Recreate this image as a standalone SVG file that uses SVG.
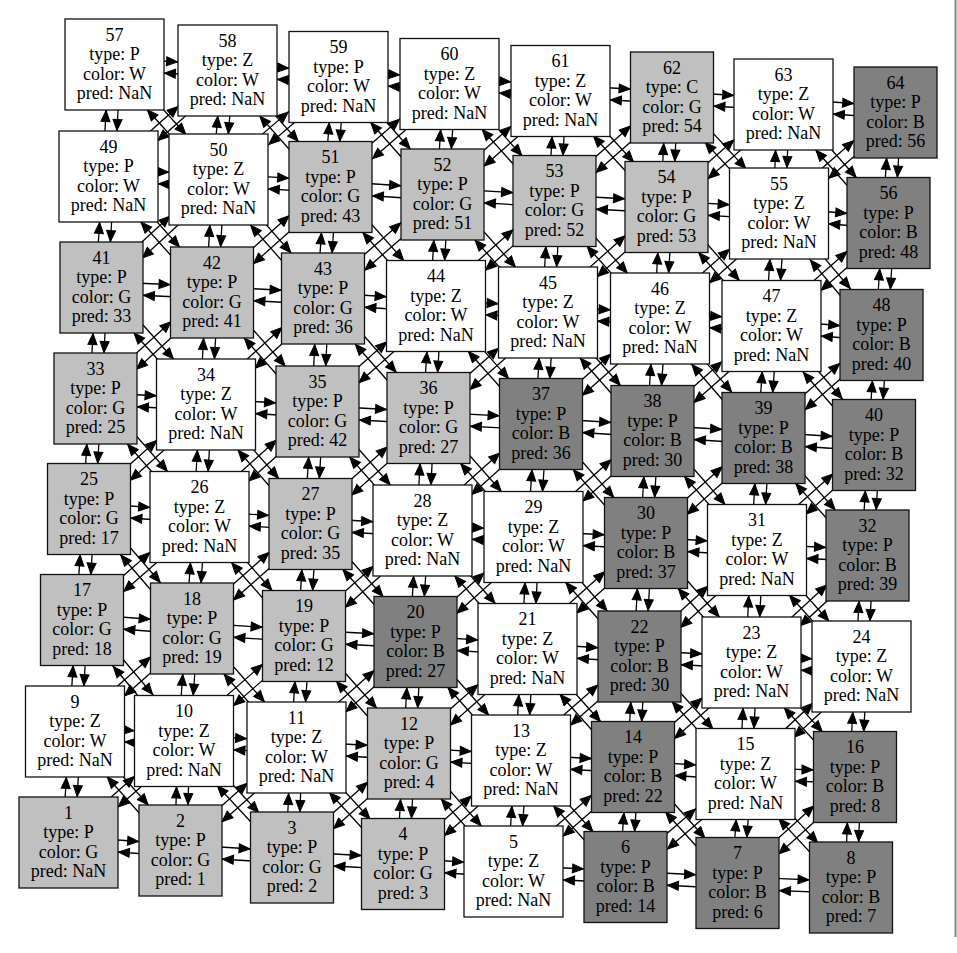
<svg xmlns="http://www.w3.org/2000/svg" width="957" height="953" viewBox="0 0 957 953">
<style>
.G rect{fill:#c0c0c0}.B rect{fill:#808080}.W rect{fill:#fff}
.nodes rect{stroke:#111;stroke-width:1.3}
.nodes text{font-family:"Liberation Serif","Times New Roman",serif;font-size:18px;text-anchor:middle;fill:#000}
#edges path{fill:none;stroke:#000;stroke-width:1.3}
.h path{marker-end:url(#m42)}.h path.w{marker-end:url(#m50)}
.v path{marker-end:url(#m46)}
.a path{marker-end:url(#m50)}.a path.w{marker-end:url(#m61)}
.b path{marker-end:url(#m56)}
marker{overflow:visible}
marker path{fill:#000;stroke:#000;stroke-width:1}
</style>
<defs>
<marker id="m42" markerUnits="userSpaceOnUse" orient="auto" markerWidth="1" markerHeight="1"><path d="M-42 0L-53 -4.5L-53 4.5Z"/></marker>
<marker id="m50" markerUnits="userSpaceOnUse" orient="auto" markerWidth="1" markerHeight="1"><path d="M-50 0L-61 -4.5L-61 4.5Z"/></marker>
<marker id="m46" markerUnits="userSpaceOnUse" orient="auto" markerWidth="1" markerHeight="1"><path d="M-46 0L-57 -4.5L-57 4.5Z"/></marker>
<marker id="m61" markerUnits="userSpaceOnUse" orient="auto" markerWidth="1" markerHeight="1"><path d="M-60.7 0L-71.7 -4.5L-71.7 4.5Z"/></marker>
<marker id="m56" markerUnits="userSpaceOnUse" orient="auto" markerWidth="1" markerHeight="1"><path d="M-55.6 0L-66.6 -4.5L-66.6 4.5Z"/></marker>
</defs>
<rect width="957" height="953" fill="#fff"/>
<line x1="955.5" y1="0" x2="955.5" y2="937" stroke="#888" stroke-width="2"/>
<g id="edges">
<g class="h" transform="translate(0,-6)">
<path d="M68.5 842.5L180.5 850.5"/><path d="M180.5 850.5L292 857.5"/><path d="M292 857.5L403 864"/><path class="w" d="M403 864L513.5 871.5"/><path d="M513.5 871.5L625.5 877"/><path d="M625.5 877L737.5 883"/><path d="M737.5 883L851 887.5"/>
<path class="w" d="M75 731.5L184 741"/><path class="w" d="M184 741L296.5 747.5"/><path d="M296.5 747.5L409 753.5"/><path class="w" d="M409 753.5L521 760.5"/><path d="M521 760.5L633 767"/><path class="w" d="M633 767L745.5 774"/><path d="M745.5 774L855 777"/>
<path d="M82 620L192 628.5"/><path d="M192 628.5L304 636"/><path d="M304 636L415.5 642"/><path class="w" d="M415.5 642L527.5 649"/><path d="M527.5 649L639.5 656.5"/><path class="w" d="M639.5 656.5L751.5 662.5"/><path class="w" d="M751.5 662.5L861.5 666.5"/>
<path class="w" d="M89 509L199.5 517"/><path d="M199.5 517L310.5 524"/><path class="w" d="M310.5 524L422.5 530.5"/><path class="w" d="M422.5 530.5L533.5 537"/><path d="M533.5 537L646 543"/><path class="w" d="M646 543L757 550"/><path d="M757 550L867.5 555.5"/>
<path class="w" d="M95.5 398.5L206 404.5"/><path d="M206 404.5L317.5 411.5"/><path d="M317.5 411.5L428.5 418"/><path d="M428.5 418L541 424"/><path d="M541 424L652.5 431"/><path d="M652.5 431L763.5 438"/><path d="M763.5 438L874 445"/>
<path d="M101.5 287.5L212 292.5"/><path d="M212 292.5L323 298.5"/><path class="w" d="M323 298.5L436 306"/><path class="w" d="M436 306L548 312.5"/><path class="w" d="M548 312.5L660 318.5"/><path class="w" d="M660 318.5L771.5 326"/><path d="M771.5 326L881.5 335"/>
<path class="w" d="M108.5 176.5L218.5 179.5"/><path d="M218.5 179.5L330.5 187"/><path d="M330.5 187L442.5 194.5"/><path d="M442.5 194.5L554.5 201"/><path d="M554.5 201L666.5 207"/><path class="w" d="M666.5 207L779 213.5"/><path d="M779 213.5L888.5 223"/>
<path class="w" d="M114.5 64.5L227.5 70.5"/><path class="w" d="M227.5 70.5L338.5 77"/><path class="w" d="M338.5 77L449.5 84"/><path class="w" d="M449.5 84L560.5 91"/><path d="M560.5 91L672 97.5"/><path class="w" d="M672 97.5L783.5 104.5"/><path d="M783.5 104.5L895.5 112.5"/>
</g>
<g class="h" transform="translate(0,6)">
<path class="w" d="M180.5 850.5L68.5 842.5"/><path d="M292 857.5L180.5 850.5"/><path d="M403 864L292 857.5"/><path d="M513.5 871.5L403 864"/><path class="w" d="M625.5 877L513.5 871.5"/><path d="M737.5 883L625.5 877"/><path d="M851 887.5L737.5 883"/>
<path class="w" d="M184 741L75 731.5"/><path class="w" d="M296.5 747.5L184 741"/><path class="w" d="M409 753.5L296.5 747.5"/><path d="M521 760.5L409 753.5"/><path class="w" d="M633 767L521 760.5"/><path d="M745.5 774L633 767"/><path class="w" d="M855 777L745.5 774"/>
<path d="M192 628.5L82 620"/><path d="M304 636L192 628.5"/><path d="M415.5 642L304 636"/><path d="M527.5 649L415.5 642"/><path class="w" d="M639.5 656.5L527.5 649"/><path d="M751.5 662.5L639.5 656.5"/><path class="w" d="M861.5 666.5L751.5 662.5"/>
<path d="M199.5 517L89 509"/><path class="w" d="M310.5 524L199.5 517"/><path d="M422.5 530.5L310.5 524"/><path class="w" d="M533.5 537L422.5 530.5"/><path class="w" d="M646 543L533.5 537"/><path d="M757 550L646 543"/><path class="w" d="M867.5 555.5L757 550"/>
<path d="M206 404.5L95.5 398.5"/><path class="w" d="M317.5 411.5L206 404.5"/><path d="M428.5 418L317.5 411.5"/><path d="M541 424L428.5 418"/><path d="M652.5 431L541 424"/><path d="M763.5 438L652.5 431"/><path d="M874 445L763.5 438"/>
<path d="M212 292.5L101.5 287.5"/><path d="M323 298.5L212 292.5"/><path d="M436 306L323 298.5"/><path class="w" d="M548 312.5L436 306"/><path class="w" d="M660 318.5L548 312.5"/><path class="w" d="M771.5 326L660 318.5"/><path class="w" d="M881.5 335L771.5 326"/>
<path class="w" d="M218.5 179.5L108.5 176.5"/><path class="w" d="M330.5 187L218.5 179.5"/><path d="M442.5 194.5L330.5 187"/><path d="M554.5 201L442.5 194.5"/><path d="M666.5 207L554.5 201"/><path d="M779 213.5L666.5 207"/><path class="w" d="M888.5 223L779 213.5"/>
<path class="w" d="M227.5 70.5L114.5 64.5"/><path class="w" d="M338.5 77L227.5 70.5"/><path class="w" d="M449.5 84L338.5 77"/><path class="w" d="M560.5 91L449.5 84"/><path class="w" d="M672 97.5L560.5 91"/><path d="M783.5 104.5L672 97.5"/><path class="w" d="M895.5 112.5L783.5 104.5"/>
</g>
<g class="v" transform="translate(-6,0)">
<path d="M68.5 842.5L75 731.5"/><path d="M180.5 850.5L184 741"/><path d="M292 857.5L296.5 747.5"/><path d="M403 864L409 753.5"/><path d="M513.5 871.5L521 760.5"/><path d="M625.5 877L633 767"/><path d="M737.5 883L745.5 774"/><path d="M851 887.5L855 777"/>
<path d="M75 731.5L82 620"/><path d="M184 741L192 628.5"/><path d="M296.5 747.5L304 636"/><path d="M409 753.5L415.5 642"/><path d="M521 760.5L527.5 649"/><path d="M633 767L639.5 656.5"/><path d="M745.5 774L751.5 662.5"/><path d="M855 777L861.5 666.5"/>
<path d="M82 620L89 509"/><path d="M192 628.5L199.5 517"/><path d="M304 636L310.5 524"/><path d="M415.5 642L422.5 530.5"/><path d="M527.5 649L533.5 537"/><path d="M639.5 656.5L646 543"/><path d="M751.5 662.5L757 550"/><path d="M861.5 666.5L867.5 555.5"/>
<path d="M89 509L95.5 398.5"/><path d="M199.5 517L206 404.5"/><path d="M310.5 524L317.5 411.5"/><path d="M422.5 530.5L428.5 418"/><path d="M533.5 537L541 424"/><path d="M646 543L652.5 431"/><path d="M757 550L763.5 438"/><path d="M867.5 555.5L874 445"/>
<path d="M95.5 398.5L101.5 287.5"/><path d="M206 404.5L212 292.5"/><path d="M317.5 411.5L323 298.5"/><path d="M428.5 418L436 306"/><path d="M541 424L548 312.5"/><path d="M652.5 431L660 318.5"/><path d="M763.5 438L771.5 326"/><path d="M874 445L881.5 335"/>
<path d="M101.5 287.5L108.5 176.5"/><path d="M212 292.5L218.5 179.5"/><path d="M323 298.5L330.5 187"/><path d="M436 306L442.5 194.5"/><path d="M548 312.5L554.5 201"/><path d="M660 318.5L666.5 207"/><path d="M771.5 326L779 213.5"/><path d="M881.5 335L888.5 223"/>
<path d="M108.5 176.5L114.5 64.5"/><path d="M218.5 179.5L227.5 70.5"/><path d="M330.5 187L338.5 77"/><path d="M442.5 194.5L449.5 84"/><path d="M554.5 201L560.5 91"/><path d="M666.5 207L672 97.5"/><path d="M779 213.5L783.5 104.5"/><path d="M888.5 223L895.5 112.5"/>
</g>
<g class="v" transform="translate(6,0)">
<path d="M75 731.5L68.5 842.5"/><path d="M184 741L180.5 850.5"/><path d="M296.5 747.5L292 857.5"/><path d="M409 753.5L403 864"/><path d="M521 760.5L513.5 871.5"/><path d="M633 767L625.5 877"/><path d="M745.5 774L737.5 883"/><path d="M855 777L851 887.5"/>
<path d="M82 620L75 731.5"/><path d="M192 628.5L184 741"/><path d="M304 636L296.5 747.5"/><path d="M415.5 642L409 753.5"/><path d="M527.5 649L521 760.5"/><path d="M639.5 656.5L633 767"/><path d="M751.5 662.5L745.5 774"/><path d="M861.5 666.5L855 777"/>
<path d="M89 509L82 620"/><path d="M199.5 517L192 628.5"/><path d="M310.5 524L304 636"/><path d="M422.5 530.5L415.5 642"/><path d="M533.5 537L527.5 649"/><path d="M646 543L639.5 656.5"/><path d="M757 550L751.5 662.5"/><path d="M867.5 555.5L861.5 666.5"/>
<path d="M95.5 398.5L89 509"/><path d="M206 404.5L199.5 517"/><path d="M317.5 411.5L310.5 524"/><path d="M428.5 418L422.5 530.5"/><path d="M541 424L533.5 537"/><path d="M652.5 431L646 543"/><path d="M763.5 438L757 550"/><path d="M874 445L867.5 555.5"/>
<path d="M101.5 287.5L95.5 398.5"/><path d="M212 292.5L206 404.5"/><path d="M323 298.5L317.5 411.5"/><path d="M436 306L428.5 418"/><path d="M548 312.5L541 424"/><path d="M660 318.5L652.5 431"/><path d="M771.5 326L763.5 438"/><path d="M881.5 335L874 445"/>
<path d="M108.5 176.5L101.5 287.5"/><path d="M218.5 179.5L212 292.5"/><path d="M330.5 187L323 298.5"/><path d="M442.5 194.5L436 306"/><path d="M554.5 201L548 312.5"/><path d="M666.5 207L660 318.5"/><path d="M779 213.5L771.5 326"/><path d="M888.5 223L881.5 335"/>
<path d="M114.5 64.5L108.5 176.5"/><path d="M227.5 70.5L218.5 179.5"/><path d="M338.5 77L330.5 187"/><path d="M449.5 84L442.5 194.5"/><path d="M560.5 91L554.5 201"/><path d="M672 97.5L666.5 207"/><path d="M783.5 104.5L779 213.5"/><path d="M895.5 112.5L888.5 223"/>
</g>
<g class="a" transform="translate(-4,-4.5)">
<path class="w" d="M68.5 842.5L184 741"/><path class="w" d="M180.5 850.5L296.5 747.5"/><path d="M292 857.5L409 753.5"/><path class="w" d="M403 864L521 760.5"/><path d="M513.5 871.5L633 767"/><path class="w" d="M625.5 877L745.5 774"/><path d="M737.5 883L855 777"/>
<path d="M75 731.5L192 628.5"/><path d="M184 741L304 636"/><path d="M296.5 747.5L415.5 642"/><path class="w" d="M409 753.5L527.5 649"/><path d="M521 760.5L639.5 656.5"/><path class="w" d="M633 767L751.5 662.5"/><path class="w" d="M745.5 774L861.5 666.5"/>
<path class="w" d="M82 620L199.5 517"/><path d="M192 628.5L310.5 524"/><path class="w" d="M304 636L422.5 530.5"/><path class="w" d="M415.5 642L533.5 537"/><path d="M527.5 649L646 543"/><path class="w" d="M639.5 656.5L757 550"/><path d="M751.5 662.5L867.5 555.5"/>
<path class="w" d="M89 509L206 404.5"/><path d="M199.5 517L317.5 411.5"/><path d="M310.5 524L428.5 418"/><path d="M422.5 530.5L541 424"/><path d="M533.5 537L652.5 431"/><path d="M646 543L763.5 438"/><path d="M757 550L874 445"/>
<path d="M95.5 398.5L212 292.5"/><path d="M206 404.5L323 298.5"/><path class="w" d="M317.5 411.5L436 306"/><path class="w" d="M428.5 418L548 312.5"/><path class="w" d="M541 424L660 318.5"/><path class="w" d="M652.5 431L771.5 326"/><path d="M763.5 438L881.5 335"/>
<path class="w" d="M101.5 287.5L218.5 179.5"/><path d="M212 292.5L330.5 187"/><path d="M323 298.5L442.5 194.5"/><path d="M436 306L554.5 201"/><path d="M548 312.5L666.5 207"/><path class="w" d="M660 318.5L779 213.5"/><path d="M771.5 326L888.5 223"/>
<path class="w" d="M108.5 176.5L227.5 70.5"/><path class="w" d="M218.5 179.5L338.5 77"/><path class="w" d="M330.5 187L449.5 84"/><path class="w" d="M442.5 194.5L560.5 91"/><path d="M554.5 201L672 97.5"/><path class="w" d="M666.5 207L783.5 104.5"/><path d="M779 213.5L895.5 112.5"/>
</g>
<g class="a" transform="translate(4,4.5)">
<path class="w" d="M184 741L68.5 842.5"/><path d="M296.5 747.5L180.5 850.5"/><path d="M409 753.5L292 857.5"/><path d="M521 760.5L403 864"/><path class="w" d="M633 767L513.5 871.5"/><path d="M745.5 774L625.5 877"/><path d="M855 777L737.5 883"/>
<path class="w" d="M192 628.5L75 731.5"/><path class="w" d="M304 636L184 741"/><path class="w" d="M415.5 642L296.5 747.5"/><path d="M527.5 649L409 753.5"/><path class="w" d="M639.5 656.5L521 760.5"/><path d="M751.5 662.5L633 767"/><path class="w" d="M861.5 666.5L745.5 774"/>
<path d="M199.5 517L82 620"/><path d="M310.5 524L192 628.5"/><path d="M422.5 530.5L304 636"/><path d="M533.5 537L415.5 642"/><path class="w" d="M646 543L527.5 649"/><path d="M757 550L639.5 656.5"/><path class="w" d="M867.5 555.5L751.5 662.5"/>
<path d="M206 404.5L89 509"/><path class="w" d="M317.5 411.5L199.5 517"/><path d="M428.5 418L310.5 524"/><path class="w" d="M541 424L422.5 530.5"/><path class="w" d="M652.5 431L533.5 537"/><path d="M763.5 438L646 543"/><path class="w" d="M874 445L757 550"/>
<path d="M212 292.5L95.5 398.5"/><path class="w" d="M323 298.5L206 404.5"/><path d="M436 306L317.5 411.5"/><path d="M548 312.5L428.5 418"/><path d="M660 318.5L541 424"/><path d="M771.5 326L652.5 431"/><path d="M881.5 335L763.5 438"/>
<path d="M218.5 179.5L101.5 287.5"/><path d="M330.5 187L212 292.5"/><path d="M442.5 194.5L323 298.5"/><path class="w" d="M554.5 201L436 306"/><path class="w" d="M666.5 207L548 312.5"/><path class="w" d="M779 213.5L660 318.5"/><path class="w" d="M888.5 223L771.5 326"/>
<path class="w" d="M227.5 70.5L108.5 176.5"/><path class="w" d="M338.5 77L218.5 179.5"/><path d="M449.5 84L330.5 187"/><path d="M560.5 91L442.5 194.5"/><path d="M672 97.5L554.5 201"/><path d="M783.5 104.5L666.5 207"/><path class="w" d="M895.5 112.5L779 213.5"/>
</g>
<g class="b" transform="translate(4.5,-4)">
<path d="M75 731.5L180.5 850.5"/><path d="M184 741L292 857.5"/><path d="M296.5 747.5L403 864"/><path d="M409 753.5L513.5 871.5"/><path d="M521 760.5L625.5 877"/><path d="M633 767L737.5 883"/><path d="M745.5 774L851 887.5"/>
<path d="M82 620L184 741"/><path d="M192 628.5L296.5 747.5"/><path d="M304 636L409 753.5"/><path d="M415.5 642L521 760.5"/><path d="M527.5 649L633 767"/><path d="M639.5 656.5L745.5 774"/><path d="M751.5 662.5L855 777"/>
<path d="M89 509L192 628.5"/><path d="M199.5 517L304 636"/><path d="M310.5 524L415.5 642"/><path d="M422.5 530.5L527.5 649"/><path d="M533.5 537L639.5 656.5"/><path d="M646 543L751.5 662.5"/><path d="M757 550L861.5 666.5"/>
<path d="M95.5 398.5L199.5 517"/><path d="M206 404.5L310.5 524"/><path d="M317.5 411.5L422.5 530.5"/><path d="M428.5 418L533.5 537"/><path d="M541 424L646 543"/><path d="M652.5 431L757 550"/><path d="M763.5 438L867.5 555.5"/>
<path d="M101.5 287.5L206 404.5"/><path d="M212 292.5L317.5 411.5"/><path d="M323 298.5L428.5 418"/><path d="M436 306L541 424"/><path d="M548 312.5L652.5 431"/><path d="M660 318.5L763.5 438"/><path d="M771.5 326L874 445"/>
<path d="M108.5 176.5L212 292.5"/><path d="M218.5 179.5L323 298.5"/><path d="M330.5 187L436 306"/><path d="M442.5 194.5L548 312.5"/><path d="M554.5 201L660 318.5"/><path d="M666.5 207L771.5 326"/><path d="M779 213.5L881.5 335"/>
<path d="M114.5 64.5L218.5 179.5"/><path d="M227.5 70.5L330.5 187"/><path d="M338.5 77L442.5 194.5"/><path d="M449.5 84L554.5 201"/><path d="M560.5 91L666.5 207"/><path d="M672 97.5L779 213.5"/><path d="M783.5 104.5L888.5 223"/>
</g>
<g class="b" transform="translate(-4.5,4)">
<path d="M180.5 850.5L75 731.5"/><path d="M292 857.5L184 741"/><path d="M403 864L296.5 747.5"/><path d="M513.5 871.5L409 753.5"/><path d="M625.5 877L521 760.5"/><path d="M737.5 883L633 767"/><path d="M851 887.5L745.5 774"/>
<path d="M184 741L82 620"/><path d="M296.5 747.5L192 628.5"/><path d="M409 753.5L304 636"/><path d="M521 760.5L415.5 642"/><path d="M633 767L527.5 649"/><path d="M745.5 774L639.5 656.5"/><path d="M855 777L751.5 662.5"/>
<path d="M192 628.5L89 509"/><path d="M304 636L199.5 517"/><path d="M415.5 642L310.5 524"/><path d="M527.5 649L422.5 530.5"/><path d="M639.5 656.5L533.5 537"/><path d="M751.5 662.5L646 543"/><path d="M861.5 666.5L757 550"/>
<path d="M199.5 517L95.5 398.5"/><path d="M310.5 524L206 404.5"/><path d="M422.5 530.5L317.5 411.5"/><path d="M533.5 537L428.5 418"/><path d="M646 543L541 424"/><path d="M757 550L652.5 431"/><path d="M867.5 555.5L763.5 438"/>
<path d="M206 404.5L101.5 287.5"/><path d="M317.5 411.5L212 292.5"/><path d="M428.5 418L323 298.5"/><path d="M541 424L436 306"/><path d="M652.5 431L548 312.5"/><path d="M763.5 438L660 318.5"/><path d="M874 445L771.5 326"/>
<path d="M212 292.5L108.5 176.5"/><path d="M323 298.5L218.5 179.5"/><path d="M436 306L330.5 187"/><path d="M548 312.5L442.5 194.5"/><path d="M660 318.5L554.5 201"/><path d="M771.5 326L666.5 207"/><path d="M881.5 335L779 213.5"/>
<path d="M218.5 179.5L114.5 64.5"/><path d="M330.5 187L227.5 70.5"/><path d="M442.5 194.5L338.5 77"/><path d="M554.5 201L449.5 84"/><path d="M666.5 207L560.5 91"/><path d="M779 213.5L672 97.5"/><path d="M888.5 223L783.5 104.5"/>
</g>
</g>
<g class="nodes">
<g id="n1" class="G" transform="translate(68.5,842.5)"><rect x="-49.5" y="-45.5" width="99" height="91"/><text y="-24">1<tspan x="0" dy="19.5">type: P</tspan><tspan x="0" dy="19.5">color: G</tspan><tspan x="0" dy="19.5">pred: NaN</tspan></text></g>
<g id="n2" class="G" transform="translate(180.5,850.5)"><rect x="-41.5" y="-45.5" width="83" height="91"/><text y="-24">2<tspan x="0" dy="19.5">type: P</tspan><tspan x="0" dy="19.5">color: G</tspan><tspan x="0" dy="19.5">pred: 1</tspan></text></g>
<g id="n3" class="G" transform="translate(292,857.5)"><rect x="-41.5" y="-45.5" width="83" height="91"/><text y="-24">3<tspan x="0" dy="19.5">type: P</tspan><tspan x="0" dy="19.5">color: G</tspan><tspan x="0" dy="19.5">pred: 2</tspan></text></g>
<g id="n4" class="G" transform="translate(403,864)"><rect x="-41.5" y="-45.5" width="83" height="91"/><text y="-24">4<tspan x="0" dy="19.5">type: P</tspan><tspan x="0" dy="19.5">color: G</tspan><tspan x="0" dy="19.5">pred: 3</tspan></text></g>
<g id="n5" class="W" transform="translate(513.5,871.5)"><rect x="-49.5" y="-45.5" width="99" height="91"/><text y="-24">5<tspan x="0" dy="19.5">type: Z</tspan><tspan x="0" dy="19.5">color: W</tspan><tspan x="0" dy="19.5">pred: NaN</tspan></text></g>
<g id="n6" class="B" transform="translate(625.5,877)"><rect x="-41.5" y="-45.5" width="83" height="91"/><text y="-24">6<tspan x="0" dy="19.5">type: P</tspan><tspan x="0" dy="19.5">color: B</tspan><tspan x="0" dy="19.5">pred: 14</tspan></text></g>
<g id="n7" class="B" transform="translate(737.5,883)"><rect x="-41.5" y="-45.5" width="83" height="91"/><text y="-24">7<tspan x="0" dy="19.5">type: P</tspan><tspan x="0" dy="19.5">color: B</tspan><tspan x="0" dy="19.5">pred: 6</tspan></text></g>
<g id="n8" class="B" transform="translate(851,887.5)"><rect x="-41.5" y="-45.5" width="83" height="91"/><text y="-24">8<tspan x="0" dy="19.5">type: P</tspan><tspan x="0" dy="19.5">color: B</tspan><tspan x="0" dy="19.5">pred: 7</tspan></text></g>
<g id="n9" class="W" transform="translate(75,731.5)"><rect x="-49.5" y="-45.5" width="99" height="91"/><text y="-24">9<tspan x="0" dy="19.5">type: Z</tspan><tspan x="0" dy="19.5">color: W</tspan><tspan x="0" dy="19.5">pred: NaN</tspan></text></g>
<g id="n10" class="W" transform="translate(184,741)"><rect x="-49.5" y="-45.5" width="99" height="91"/><text y="-24">10<tspan x="0" dy="19.5">type: Z</tspan><tspan x="0" dy="19.5">color: W</tspan><tspan x="0" dy="19.5">pred: NaN</tspan></text></g>
<g id="n11" class="W" transform="translate(296.5,747.5)"><rect x="-49.5" y="-45.5" width="99" height="91"/><text y="-24">11<tspan x="0" dy="19.5">type: Z</tspan><tspan x="0" dy="19.5">color: W</tspan><tspan x="0" dy="19.5">pred: NaN</tspan></text></g>
<g id="n12" class="G" transform="translate(409,753.5)"><rect x="-41.5" y="-45.5" width="83" height="91"/><text y="-24">12<tspan x="0" dy="19.5">type: P</tspan><tspan x="0" dy="19.5">color: G</tspan><tspan x="0" dy="19.5">pred: 4</tspan></text></g>
<g id="n13" class="W" transform="translate(521,760.5)"><rect x="-49.5" y="-45.5" width="99" height="91"/><text y="-24">13<tspan x="0" dy="19.5">type: Z</tspan><tspan x="0" dy="19.5">color: W</tspan><tspan x="0" dy="19.5">pred: NaN</tspan></text></g>
<g id="n14" class="B" transform="translate(633,767)"><rect x="-41.5" y="-45.5" width="83" height="91"/><text y="-24">14<tspan x="0" dy="19.5">type: P</tspan><tspan x="0" dy="19.5">color: B</tspan><tspan x="0" dy="19.5">pred: 22</tspan></text></g>
<g id="n15" class="W" transform="translate(745.5,774)"><rect x="-49.5" y="-45.5" width="99" height="91"/><text y="-24">15<tspan x="0" dy="19.5">type: Z</tspan><tspan x="0" dy="19.5">color: W</tspan><tspan x="0" dy="19.5">pred: NaN</tspan></text></g>
<g id="n16" class="B" transform="translate(855,777)"><rect x="-41.5" y="-45.5" width="83" height="91"/><text y="-24">16<tspan x="0" dy="19.5">type: P</tspan><tspan x="0" dy="19.5">color: B</tspan><tspan x="0" dy="19.5">pred: 8</tspan></text></g>
<g id="n17" class="G" transform="translate(82,620)"><rect x="-41.5" y="-45.5" width="83" height="91"/><text y="-24">17<tspan x="0" dy="19.5">type: P</tspan><tspan x="0" dy="19.5">color: G</tspan><tspan x="0" dy="19.5">pred: 18</tspan></text></g>
<g id="n18" class="G" transform="translate(192,628.5)"><rect x="-41.5" y="-45.5" width="83" height="91"/><text y="-24">18<tspan x="0" dy="19.5">type: P</tspan><tspan x="0" dy="19.5">color: G</tspan><tspan x="0" dy="19.5">pred: 19</tspan></text></g>
<g id="n19" class="G" transform="translate(304,636)"><rect x="-41.5" y="-45.5" width="83" height="91"/><text y="-24">19<tspan x="0" dy="19.5">type: P</tspan><tspan x="0" dy="19.5">color: G</tspan><tspan x="0" dy="19.5">pred: 12</tspan></text></g>
<g id="n20" class="B" transform="translate(415.5,642)"><rect x="-41.5" y="-45.5" width="83" height="91"/><text y="-24">20<tspan x="0" dy="19.5">type: P</tspan><tspan x="0" dy="19.5">color: B</tspan><tspan x="0" dy="19.5">pred: 27</tspan></text></g>
<g id="n21" class="W" transform="translate(527.5,649)"><rect x="-49.5" y="-45.5" width="99" height="91"/><text y="-24">21<tspan x="0" dy="19.5">type: Z</tspan><tspan x="0" dy="19.5">color: W</tspan><tspan x="0" dy="19.5">pred: NaN</tspan></text></g>
<g id="n22" class="B" transform="translate(639.5,656.5)"><rect x="-41.5" y="-45.5" width="83" height="91"/><text y="-24">22<tspan x="0" dy="19.5">type: P</tspan><tspan x="0" dy="19.5">color: B</tspan><tspan x="0" dy="19.5">pred: 30</tspan></text></g>
<g id="n23" class="W" transform="translate(751.5,662.5)"><rect x="-49.5" y="-45.5" width="99" height="91"/><text y="-24">23<tspan x="0" dy="19.5">type: Z</tspan><tspan x="0" dy="19.5">color: W</tspan><tspan x="0" dy="19.5">pred: NaN</tspan></text></g>
<g id="n24" class="W" transform="translate(861.5,666.5)"><rect x="-49.5" y="-45.5" width="99" height="91"/><text y="-24">24<tspan x="0" dy="19.5">type: Z</tspan><tspan x="0" dy="19.5">color: W</tspan><tspan x="0" dy="19.5">pred: NaN</tspan></text></g>
<g id="n25" class="G" transform="translate(89,509)"><rect x="-41.5" y="-45.5" width="83" height="91"/><text y="-24">25<tspan x="0" dy="19.5">type: P</tspan><tspan x="0" dy="19.5">color: G</tspan><tspan x="0" dy="19.5">pred: 17</tspan></text></g>
<g id="n26" class="W" transform="translate(199.5,517)"><rect x="-49.5" y="-45.5" width="99" height="91"/><text y="-24">26<tspan x="0" dy="19.5">type: Z</tspan><tspan x="0" dy="19.5">color: W</tspan><tspan x="0" dy="19.5">pred: NaN</tspan></text></g>
<g id="n27" class="G" transform="translate(310.5,524)"><rect x="-41.5" y="-45.5" width="83" height="91"/><text y="-24">27<tspan x="0" dy="19.5">type: P</tspan><tspan x="0" dy="19.5">color: G</tspan><tspan x="0" dy="19.5">pred: 35</tspan></text></g>
<g id="n28" class="W" transform="translate(422.5,530.5)"><rect x="-49.5" y="-45.5" width="99" height="91"/><text y="-24">28<tspan x="0" dy="19.5">type: Z</tspan><tspan x="0" dy="19.5">color: W</tspan><tspan x="0" dy="19.5">pred: NaN</tspan></text></g>
<g id="n29" class="W" transform="translate(533.5,537)"><rect x="-49.5" y="-45.5" width="99" height="91"/><text y="-24">29<tspan x="0" dy="19.5">type: Z</tspan><tspan x="0" dy="19.5">color: W</tspan><tspan x="0" dy="19.5">pred: NaN</tspan></text></g>
<g id="n30" class="B" transform="translate(646,543)"><rect x="-41.5" y="-45.5" width="83" height="91"/><text y="-24">30<tspan x="0" dy="19.5">type: P</tspan><tspan x="0" dy="19.5">color: B</tspan><tspan x="0" dy="19.5">pred: 37</tspan></text></g>
<g id="n31" class="W" transform="translate(757,550)"><rect x="-49.5" y="-45.5" width="99" height="91"/><text y="-24">31<tspan x="0" dy="19.5">type: Z</tspan><tspan x="0" dy="19.5">color: W</tspan><tspan x="0" dy="19.5">pred: NaN</tspan></text></g>
<g id="n32" class="B" transform="translate(867.5,555.5)"><rect x="-41.5" y="-45.5" width="83" height="91"/><text y="-24">32<tspan x="0" dy="19.5">type: P</tspan><tspan x="0" dy="19.5">color: B</tspan><tspan x="0" dy="19.5">pred: 39</tspan></text></g>
<g id="n33" class="G" transform="translate(95.5,398.5)"><rect x="-41.5" y="-45.5" width="83" height="91"/><text y="-24">33<tspan x="0" dy="19.5">type: P</tspan><tspan x="0" dy="19.5">color: G</tspan><tspan x="0" dy="19.5">pred: 25</tspan></text></g>
<g id="n34" class="W" transform="translate(206,404.5)"><rect x="-49.5" y="-45.5" width="99" height="91"/><text y="-24">34<tspan x="0" dy="19.5">type: Z</tspan><tspan x="0" dy="19.5">color: W</tspan><tspan x="0" dy="19.5">pred: NaN</tspan></text></g>
<g id="n35" class="G" transform="translate(317.5,411.5)"><rect x="-41.5" y="-45.5" width="83" height="91"/><text y="-24">35<tspan x="0" dy="19.5">type: P</tspan><tspan x="0" dy="19.5">color: G</tspan><tspan x="0" dy="19.5">pred: 42</tspan></text></g>
<g id="n36" class="G" transform="translate(428.5,418)"><rect x="-41.5" y="-45.5" width="83" height="91"/><text y="-24">36<tspan x="0" dy="19.5">type: P</tspan><tspan x="0" dy="19.5">color: G</tspan><tspan x="0" dy="19.5">pred: 27</tspan></text></g>
<g id="n37" class="B" transform="translate(541,424)"><rect x="-41.5" y="-45.5" width="83" height="91"/><text y="-24">37<tspan x="0" dy="19.5">type: P</tspan><tspan x="0" dy="19.5">color: B</tspan><tspan x="0" dy="19.5">pred: 36</tspan></text></g>
<g id="n38" class="B" transform="translate(652.5,431)"><rect x="-41.5" y="-45.5" width="83" height="91"/><text y="-24">38<tspan x="0" dy="19.5">type: P</tspan><tspan x="0" dy="19.5">color: B</tspan><tspan x="0" dy="19.5">pred: 30</tspan></text></g>
<g id="n39" class="B" transform="translate(763.5,438)"><rect x="-41.5" y="-45.5" width="83" height="91"/><text y="-24">39<tspan x="0" dy="19.5">type: P</tspan><tspan x="0" dy="19.5">color: B</tspan><tspan x="0" dy="19.5">pred: 38</tspan></text></g>
<g id="n40" class="B" transform="translate(874,445)"><rect x="-41.5" y="-45.5" width="83" height="91"/><text y="-24">40<tspan x="0" dy="19.5">type: P</tspan><tspan x="0" dy="19.5">color: B</tspan><tspan x="0" dy="19.5">pred: 32</tspan></text></g>
<g id="n41" class="G" transform="translate(101.5,287.5)"><rect x="-41.5" y="-45.5" width="83" height="91"/><text y="-24">41<tspan x="0" dy="19.5">type: P</tspan><tspan x="0" dy="19.5">color: G</tspan><tspan x="0" dy="19.5">pred: 33</tspan></text></g>
<g id="n42" class="G" transform="translate(212,292.5)"><rect x="-41.5" y="-45.5" width="83" height="91"/><text y="-24">42<tspan x="0" dy="19.5">type: P</tspan><tspan x="0" dy="19.5">color: G</tspan><tspan x="0" dy="19.5">pred: 41</tspan></text></g>
<g id="n43" class="G" transform="translate(323,298.5)"><rect x="-41.5" y="-45.5" width="83" height="91"/><text y="-24">43<tspan x="0" dy="19.5">type: P</tspan><tspan x="0" dy="19.5">color: G</tspan><tspan x="0" dy="19.5">pred: 36</tspan></text></g>
<g id="n44" class="W" transform="translate(436,306)"><rect x="-49.5" y="-45.5" width="99" height="91"/><text y="-24">44<tspan x="0" dy="19.5">type: Z</tspan><tspan x="0" dy="19.5">color: W</tspan><tspan x="0" dy="19.5">pred: NaN</tspan></text></g>
<g id="n45" class="W" transform="translate(548,312.5)"><rect x="-49.5" y="-45.5" width="99" height="91"/><text y="-24">45<tspan x="0" dy="19.5">type: Z</tspan><tspan x="0" dy="19.5">color: W</tspan><tspan x="0" dy="19.5">pred: NaN</tspan></text></g>
<g id="n46" class="W" transform="translate(660,318.5)"><rect x="-49.5" y="-45.5" width="99" height="91"/><text y="-24">46<tspan x="0" dy="19.5">type: Z</tspan><tspan x="0" dy="19.5">color: W</tspan><tspan x="0" dy="19.5">pred: NaN</tspan></text></g>
<g id="n47" class="W" transform="translate(771.5,326)"><rect x="-49.5" y="-45.5" width="99" height="91"/><text y="-24">47<tspan x="0" dy="19.5">type: Z</tspan><tspan x="0" dy="19.5">color: W</tspan><tspan x="0" dy="19.5">pred: NaN</tspan></text></g>
<g id="n48" class="B" transform="translate(881.5,335)"><rect x="-41.5" y="-45.5" width="83" height="91"/><text y="-24">48<tspan x="0" dy="19.5">type: P</tspan><tspan x="0" dy="19.5">color: B</tspan><tspan x="0" dy="19.5">pred: 40</tspan></text></g>
<g id="n49" class="W" transform="translate(108.5,176.5)"><rect x="-49.5" y="-45.5" width="99" height="91"/><text y="-24">49<tspan x="0" dy="19.5">type: P</tspan><tspan x="0" dy="19.5">color: W</tspan><tspan x="0" dy="19.5">pred: NaN</tspan></text></g>
<g id="n50" class="W" transform="translate(218.5,179.5)"><rect x="-49.5" y="-45.5" width="99" height="91"/><text y="-24">50<tspan x="0" dy="19.5">type: Z</tspan><tspan x="0" dy="19.5">color: W</tspan><tspan x="0" dy="19.5">pred: NaN</tspan></text></g>
<g id="n51" class="G" transform="translate(330.5,187)"><rect x="-41.5" y="-45.5" width="83" height="91"/><text y="-24">51<tspan x="0" dy="19.5">type: P</tspan><tspan x="0" dy="19.5">color: G</tspan><tspan x="0" dy="19.5">pred: 43</tspan></text></g>
<g id="n52" class="G" transform="translate(442.5,194.5)"><rect x="-41.5" y="-45.5" width="83" height="91"/><text y="-24">52<tspan x="0" dy="19.5">type: P</tspan><tspan x="0" dy="19.5">color: G</tspan><tspan x="0" dy="19.5">pred: 51</tspan></text></g>
<g id="n53" class="G" transform="translate(554.5,201)"><rect x="-41.5" y="-45.5" width="83" height="91"/><text y="-24">53<tspan x="0" dy="19.5">type: P</tspan><tspan x="0" dy="19.5">color: G</tspan><tspan x="0" dy="19.5">pred: 52</tspan></text></g>
<g id="n54" class="G" transform="translate(666.5,207)"><rect x="-41.5" y="-45.5" width="83" height="91"/><text y="-24">54<tspan x="0" dy="19.5">type: P</tspan><tspan x="0" dy="19.5">color: G</tspan><tspan x="0" dy="19.5">pred: 53</tspan></text></g>
<g id="n55" class="W" transform="translate(779,213.5)"><rect x="-49.5" y="-45.5" width="99" height="91"/><text y="-24">55<tspan x="0" dy="19.5">type: Z</tspan><tspan x="0" dy="19.5">color: W</tspan><tspan x="0" dy="19.5">pred: NaN</tspan></text></g>
<g id="n56" class="B" transform="translate(888.5,223)"><rect x="-41.5" y="-45.5" width="83" height="91"/><text y="-24">56<tspan x="0" dy="19.5">type: P</tspan><tspan x="0" dy="19.5">color: B</tspan><tspan x="0" dy="19.5">pred: 48</tspan></text></g>
<g id="n57" class="W" transform="translate(114.5,64.5)"><rect x="-49.5" y="-45.5" width="99" height="91"/><text y="-24">57<tspan x="0" dy="19.5">type: P</tspan><tspan x="0" dy="19.5">color: W</tspan><tspan x="0" dy="19.5">pred: NaN</tspan></text></g>
<g id="n58" class="W" transform="translate(227.5,70.5)"><rect x="-49.5" y="-45.5" width="99" height="91"/><text y="-24">58<tspan x="0" dy="19.5">type: Z</tspan><tspan x="0" dy="19.5">color: W</tspan><tspan x="0" dy="19.5">pred: NaN</tspan></text></g>
<g id="n59" class="W" transform="translate(338.5,77)"><rect x="-49.5" y="-45.5" width="99" height="91"/><text y="-24">59<tspan x="0" dy="19.5">type: P</tspan><tspan x="0" dy="19.5">color: W</tspan><tspan x="0" dy="19.5">pred: NaN</tspan></text></g>
<g id="n60" class="W" transform="translate(449.5,84)"><rect x="-49.5" y="-45.5" width="99" height="91"/><text y="-24">60<tspan x="0" dy="19.5">type: Z</tspan><tspan x="0" dy="19.5">color: W</tspan><tspan x="0" dy="19.5">pred: NaN</tspan></text></g>
<g id="n61" class="W" transform="translate(560.5,91)"><rect x="-49.5" y="-45.5" width="99" height="91"/><text y="-24">61<tspan x="0" dy="19.5">type: Z</tspan><tspan x="0" dy="19.5">color: W</tspan><tspan x="0" dy="19.5">pred: NaN</tspan></text></g>
<g id="n62" class="G" transform="translate(672,97.5)"><rect x="-41.5" y="-45.5" width="83" height="91"/><text y="-24">62<tspan x="0" dy="19.5">type: C</tspan><tspan x="0" dy="19.5">color: G</tspan><tspan x="0" dy="19.5">pred: 54</tspan></text></g>
<g id="n63" class="W" transform="translate(783.5,104.5)"><rect x="-49.5" y="-45.5" width="99" height="91"/><text y="-24">63<tspan x="0" dy="19.5">type: Z</tspan><tspan x="0" dy="19.5">color: W</tspan><tspan x="0" dy="19.5">pred: NaN</tspan></text></g>
<g id="n64" class="B" transform="translate(895.5,112.5)"><rect x="-41.5" y="-45.5" width="83" height="91"/><text y="-24">64<tspan x="0" dy="19.5">type: P</tspan><tspan x="0" dy="19.5">color: B</tspan><tspan x="0" dy="19.5">pred: 56</tspan></text></g>
</g>
</svg>
